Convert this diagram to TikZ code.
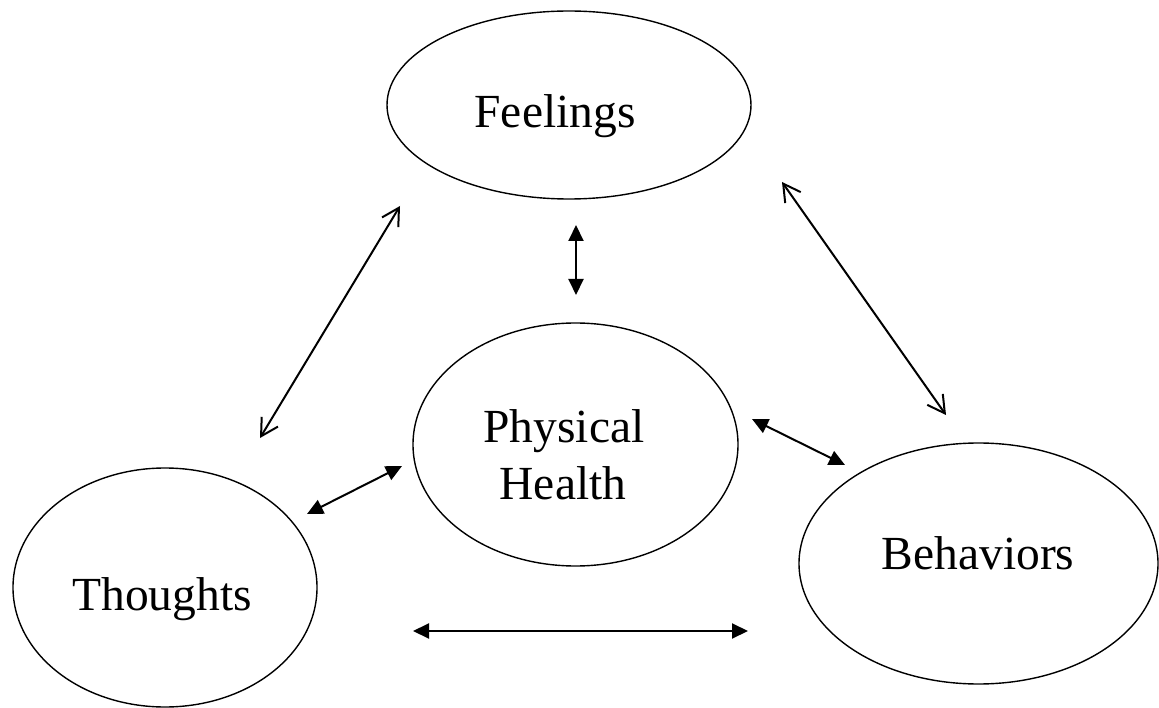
\documentclass[tikz,border=0pt]{standalone}
\usepackage{fontspec}
\setmainfont{Liberation Serif}
\usetikzlibrary{shapes.geometric,arrows.meta}
\begin{document}
\begin{tikzpicture}[x=1pt,y=-1pt,
  oval/.style={draw,ellipse,line width=1.4pt,inner sep=0pt},
  lbl/.style={anchor=base,font=\fontsize{47.5}{57}\selectfont,inner sep=0pt},
  filledarrow/.style={line width=2pt,{Triangle[length=16pt,width=15pt]}-{Triangle[length=16pt,width=15pt]}},
  openarrow/.style={line width=2pt,{Straight Barb[length=17pt,width=19pt]}-{Straight Barb[length=17pt,width=19pt]}}]
\useasboundingbox (0,0) rectangle (1159,708);
% ellipses
\node[oval,minimum width=364pt,minimum height=188pt] (feel) at (569,105) {};
\node[oval,minimum width=325pt,minimum height=243pt] (phys) at (575.5,444.5) {};
\node[oval,minimum width=304pt,minimum height=239pt] (thou) at (165,587.5) {};
\node[oval,minimum width=359pt,minimum height=241pt] (beha) at (978.5,563.5) {};
% labels
\node[lbl] (feeltxt) at (555,128) {Feelings};
\node[lbl] (phystxt1) at (564,442) {Physical};
\node[lbl] (phystxt2) at (563,499) {Health};
\node[lbl] (thoutxt) at (162,610) {Thoughts};
\node[lbl] (behatxt) at (978,569) {Behaviors};
% arrow end points
\coordinate (ft1) at (400,206);
\coordinate (ft2) at (260,438);
\coordinate (fb1) at (782,182);
\coordinate (fb2) at (946,415);
\coordinate (fp1) at (576,225);
\coordinate (fp2) at (576,295);
\coordinate (pb1) at (752,419);
\coordinate (pb2) at (845,465);
\coordinate (pt1) at (402,466);
\coordinate (pt2) at (307,514);
\coordinate (tb1) at (413,631);
\coordinate (tb2) at (748,631);
% arrows
\draw[openarrow] (ft1) -- (ft2);
\draw[openarrow] (fb1) -- (fb2);
\draw[filledarrow] (fp1) -- (fp2);
\draw[filledarrow] (pb1) -- (pb2);
\draw[filledarrow] (pt1) -- (pt2);
\draw[filledarrow] (tb1) -- (tb2);
\end{tikzpicture}
\end{document}
